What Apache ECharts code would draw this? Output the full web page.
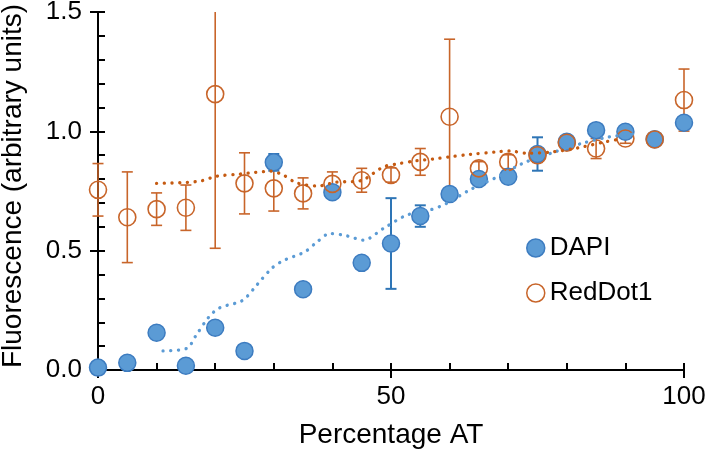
<!DOCTYPE html>
<html>
<head>
<meta charset="utf-8">
<script src="https://cdn.jsdelivr.net/npm/echarts@6/dist/echarts.min.js"></script>
<style>
html,body{margin:0;padding:0;background:#fff;}
#chart{width:709px;height:454px;}
</style>
</head>
<body>
<div id="chart"></div>
<script>
// ---- data ----
const xValues = [0, 5, 10, 15, 20, 25, 30, 35, 40, 45, 50, 55, 60, 65, 70, 75, 80, 85, 90, 95, 100];
const dapiValues = [0.01, 0.03, 0.156, 0.018, 0.177, 0.08, 0.87, 0.338, 0.745, 0.449, 0.53, 0.645, 0.737, 0.80, 0.81, 0.905, 0.956, 1.005, 0.998, 0.967, 1.036];
const dapiErrors = [0.01, 0.01, 0.01, 0.01, 0.01, 0.01, 0.035, 0.02, 0.01, 0.01, 0.19, 0.045, 0.01, 0.01, 0.01, 0.07, 0.01, 0.01, 0.01, 0.02, 0.01];
const redValues = [0.755, 0.64, 0.674, 0.68, 1.156, 0.782, 0.761, 0.74, 0.78, 0.795, 0.817, 0.872, 1.061, 0.845, 0.872, 0.90, 0.952, 0.928, 0.970, 0.966, 1.131];
const redErrors = [0.11, 0.19, 0.068, 0.095, 0.646, 0.128, 0.095, 0.065, 0.05, 0.05, 0.03, 0.056, 0.325, 0.028, 0.03, 0.03, 0.02, 0.042, 0.02, 0.02, 0.13];

const dapiTrendX = [11.1, 15.2, 16.6, 18.85, 20.7, 24.25, 25.4, 27.1, 29.65, 31.6, 35.3, 37.3, 39.6, 42.5, 45.3, 48.7, 52.7, 56.6, 59.5, 63.4, 68, 72.5, 77.5, 82.5, 87.3, 92];
const dapiTrendY = [0.08, 0.091, 0.14, 0.22, 0.26, 0.286, 0.307, 0.356, 0.426, 0.458, 0.495, 0.535, 0.572, 0.562, 0.544, 0.593, 0.649, 0.67, 0.698, 0.754, 0.807, 0.866, 0.91, 0.949, 0.977, 0.99];
const redTrendX = [10, 15.2, 17.7, 20.3, 24.25, 26.8, 29.4, 31.6, 33.9, 37.5, 40.7, 43.6, 45.3, 48.7, 51, 54.4, 57.2, 60, 63.4, 68, 70.3, 73.1, 77.6, 81.3, 82.8, 86.6, 89];
const redTrendY = [0.782, 0.786, 0.793, 0.812, 0.821, 0.828, 0.833, 0.817, 0.784, 0.771, 0.787, 0.790, 0.797, 0.851, 0.863, 0.877, 0.884, 0.893, 0.903, 0.914, 0.918, 0.908, 0.914, 0.928, 0.935, 0.956, 0.967];

const xName = 'Percentage AT';
const yName = 'Fluorescence (arbitrary units)';
const X_MIN = 0, X_MAX = 100, X_INT = 50;
const Y_MIN = 0, Y_MAX = 1.5, Y_INT = 0.5;

// ---- build ----
const zip2 = (a, b) => a.map((v, i) => [v, b[i]]);
const zip3 = (a, b, c) => a.map((v, i) => [v, b[i], c[i]]);

const BLUE_FILL = '#5b9bd5', BLUE_EDGE = '#3d7cc0', BLUE_BAR = '#2e75b6';
const ORANGE = '#c8652a', ORANGE_DOT = '#c55a11';
const FONT = 'Liberation Sans, Arial, sans-serif';

function errRender(color, width) {
  return function (params, api) {
    const x = api.value(0), y = api.value(1), e = api.value(2);
    const lo = Math.max(y - e, Y_MIN), hiRaw = y + e, hi = Math.min(hiRaw, Y_MAX);
    const pLo = api.coord([x, lo]), pHi = api.coord([x, hi]);
    const cw = 5.5;
    const children = [
      { type: 'line', shape: { x1: pLo[0], y1: pLo[1], x2: pHi[0], y2: pHi[1] }, style: { stroke: color, lineWidth: width } },
      { type: 'line', shape: { x1: pLo[0] - cw, y1: pLo[1], x2: pLo[0] + cw, y2: pLo[1] }, style: { stroke: color, lineWidth: width } }
    ];
    if (hiRaw <= Y_MAX) {
      children.push({ type: 'line', shape: { x1: pHi[0] - cw, y1: pHi[1], x2: pHi[0] + cw, y2: pHi[1] }, style: { stroke: color, lineWidth: width } });
    }
    return { type: 'group', children: children };
  };
}

const chart = echarts.init(document.getElementById('chart'), null, { renderer: 'canvas' });
chart.setOption({
  animation: false,
  backgroundColor: '#fff',
  grid: { left: 98, right: 25, top: 12, bottom: 84, containLabel: false, outerBoundsMode: 'none' },
  xAxis: [
    {
      type: 'value', min: X_MIN, max: X_MAX, interval: X_INT, position: 'bottom',
      name: xName, nameLocation: 'middle', nameGap: 51,
      nameTextStyle: { color: '#000', fontSize: 28, fontFamily: FONT },
      axisLine: { show: true, lineStyle: { color: '#000', width: 2 } },
      splitLine: { show: false },
      axisTick: { show: true, inside: true, length: 7, lineStyle: { color: '#000', width: 2 } },
      minorTick: { show: true, splitNumber: 5, length: 7, lineStyle: { color: '#000', width: 2 } },
      axisLabel: { color: '#000', fontSize: 26, fontFamily: FONT, margin: 14 }
    },
    {
      type: 'value', min: X_MIN, max: X_MAX, interval: X_INT, position: 'bottom', gridIndex: 0,
      axisLine: { show: false }, axisLabel: { show: false }, splitLine: { show: false },
      axisTick: { show: true, inside: false, length: 8, lineStyle: { color: '#000', width: 2 } }
    }
  ],
  yAxis: [
    {
      type: 'value', min: Y_MIN, max: Y_MAX, interval: Y_INT, position: 'left',
      name: yName, nameLocation: 'middle', nameGap: 71,
      nameTextStyle: { color: '#000', fontSize: 28, fontFamily: FONT, padding: [0, 0, 0, 10] },
      axisLine: { show: true, lineStyle: { color: '#000', width: 2 } },
      splitLine: { show: false },
      axisTick: { show: true, inside: true, length: 7, lineStyle: { color: '#000', width: 2 } },
      minorTick: { show: true, splitNumber: 5, length: 7, lineStyle: { color: '#000', width: 2 } },
      axisLabel: { color: '#000', fontSize: 26, fontFamily: FONT, margin: 16, formatter: v => v.toFixed(1) }
    },
    {
      type: 'value', min: Y_MIN, max: Y_MAX, interval: Y_INT, position: 'left', gridIndex: 0,
      axisLine: { show: false }, axisLabel: { show: false }, splitLine: { show: false },
      axisTick: { show: true, inside: false, length: 8, lineStyle: { color: '#000', width: 2 } }
    }
  ],
  legend: {
    orient: 'vertical', left: 526, top: 235, padding: 0,
    itemWidth: 18, itemHeight: 18, itemGap: 19,
    textStyle: { color: '#000', fontSize: 26, fontFamily: FONT, lineHeight: 26 },
    data: [
      { name: 'DAPI', icon: 'circle', itemStyle: { color: BLUE_FILL, borderColor: BLUE_EDGE, borderWidth: 1.5 } },
      { name: 'RedDot1', icon: 'circle', itemStyle: { color: 'rgba(0,0,0,0)', borderColor: ORANGE, borderWidth: 1.5 } }
    ]
  },
  series: [
    {
      name: 'DAPI trend', type: 'line', data: zip2(dapiTrendX, dapiTrendY), smooth: 0.3,
      showSymbol: false, symbol: 'none', silent: true,
      lineStyle: { color: BLUE_FILL, width: 3.3, type: [0.1, 7.6], cap: 'round' }
    },
    {
      name: 'RedDot1 trend', type: 'line', data: zip2(redTrendX, redTrendY), smooth: 0.3,
      showSymbol: false, symbol: 'none', silent: true,
      lineStyle: { color: ORANGE_DOT, width: 3.3, type: [0.1, 7.6], cap: 'round' }
    },
    {
      name: 'RedDot1 err', type: 'custom', data: zip3(xValues, redValues, redErrors),
      renderItem: errRender(ORANGE, 1.6), clip: false, silent: true
    },
    {
      name: 'DAPI err', type: 'custom', data: zip3(xValues, dapiValues, dapiErrors),
      renderItem: errRender(BLUE_BAR, 2), clip: false, silent: true
    },
    {
      name: 'DAPI', type: 'scatter', data: zip2(xValues, dapiValues), symbol: 'circle', symbolSize: 17,
      clip: false,
      itemStyle: { color: BLUE_FILL, borderColor: BLUE_EDGE, borderWidth: 1.5, opacity: 1 }
    },
    {
      name: 'RedDot1', type: 'scatter', data: zip2(xValues, redValues), symbol: 'circle', symbolSize: 17,
      clip: false,
      itemStyle: { color: 'rgba(0,0,0,0)', borderColor: ORANGE, borderWidth: 1.6, opacity: 1 }
    }
  ]
});
</script>
</body>
</html>
